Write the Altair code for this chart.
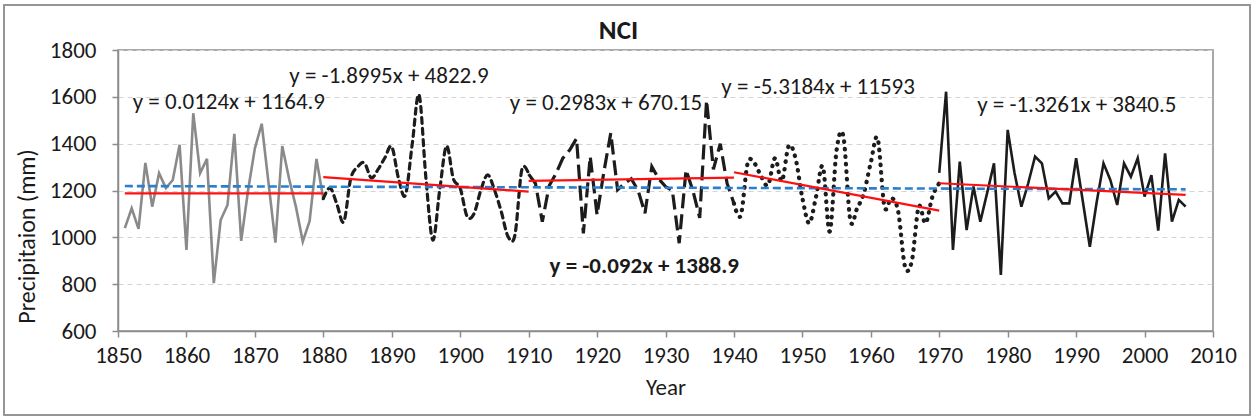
import altair as alt
import pandas as pd

# ---- data ----
seg1_years = list(range(1851, 1881))
seg1_values = [1039, 1124, 1036, 1318, 1131, 1274, 1210, 1245, 1395, 946,
               1530, 1274, 1335, 804, 1074, 1138, 1442, 985, 1200, 1380,
               1485, 1230, 977, 1390, 1250, 1130, 982, 1070, 1335, 1165]

seg2_years = list(range(1880, 1911))
seg2_values = [1165, 1211, 1140, 1067, 1250, 1300, 1318, 1254, 1290, 1340,
               1387, 1250, 1181, 1400, 1608, 1250, 989, 1200, 1390, 1250,
               1210, 1090, 1100, 1200, 1267, 1203, 1110, 1003, 1010, 1288,
               1270]

seg3_years = list(range(1910, 1941))
seg3_values = [1270, 1230, 1067, 1220, 1273, 1338, 1373, 1422, 1017, 1345,
               1096, 1280, 1445, 1203, 1230, 1250, 1200, 1103, 1302, 1250,
               1217, 1200, 975, 1288, 1200, 1083, 1585, 1290, 1400, 1230,
               1145]

seg4_years = list(range(1940, 1971))
seg4_values = [1145, 1093, 1316, 1316, 1259, 1224, 1338, 1240, 1390, 1338,
               1168, 1060, 1174, 1302, 1025, 1373, 1430, 1074, 1124, 1190,
               1320, 1423, 1131, 1168, 1110, 875, 900, 1131, 1060, 1174,
               1231]

seg5_years = list(range(1970, 2007))
seg5_values = [1275, 1622, 946, 1323, 1031, 1217, 1067, 1190, 1316, 839,
               1459, 1275, 1131, 1231, 1345, 1316, 1166, 1195, 1145, 1145,
               1338, 1150, 960, 1150, 1316, 1245, 1138, 1316, 1259, 1338,
               1174, 1266, 1029, 1359, 1067, 1160, 1131]

trend_group = ["t1", "t1", "t2", "t2", "t3", "t3", "t4", "t4", "t5", "t5"]
trend_year = [1851, 1880, 1880, 1910, 1910, 1940, 1940, 1970, 1970, 2006]
trend_value = [1188, 1188, 1257, 1195, 1241, 1255, 1278, 1114, 1231, 1181]

overall_year = [1851, 2006]
overall_value = [1219, 1205]

eq_text = ["y = 0.0124x + 1164.9", "y = -1.8995x + 4822.9", "y = 0.2983x + 670.15",
           "y = -5.3184x + 11593", "y = -1.3261x + 3840.5"]
eq_year = [1866.2, 1889.6, 1921.3, 1952.3, 1990.1]
eq_value = [1579, 1690, 1572, 1643, 1566]

overall_text = ["y = -0.092x + 1388.9"]
overall_text_year = [1926.9]
overall_text_value = [878]

# ---- tables ----
def seg_df(ys, vs):
    return pd.DataFrame({"year": ys, "value": vs})

d1 = seg_df(seg1_years, seg1_values)
d2 = seg_df(seg2_years, seg2_values)
d3 = seg_df(seg3_years, seg3_values)
d4 = seg_df(seg4_years, seg4_values)
d5 = seg_df(seg5_years, seg5_values)
trend_df = pd.DataFrame({"g": trend_group, "year": trend_year, "value": trend_value})
overall_df = pd.DataFrame({"year": overall_year, "value": overall_value})
eq_df = pd.DataFrame({"text": eq_text, "year": eq_year, "value": eq_value})
ov_df = pd.DataFrame({"text": overall_text, "year": overall_text_year, "value": overall_text_value})

FONT = "Carlito, Calibri, Lato, sans-serif"

xscale = alt.Scale(domain=[1850, 2010], nice=False, zero=False)
yscale = alt.Scale(domain=[600, 1800], nice=False, zero=False)

xaxis = alt.Axis(values=list(range(1850, 2011, 10)), format="d", title="Year",
                 grid=False, tickSize=6, labelPadding=7, titlePadding=9,
                 labelFontSize=23, titleFontSize=23, labelFlush=False)
yaxis = alt.Axis(values=list(range(600, 1801, 200)), format="d",
                 title="Precipitaion (mm)", grid=True, gridDash=[5, 4],
                 gridColor="#d4d4d4", gridWidth=1.2, tickSize=6, labelPadding=16,
                 labelFontSize=23, titleFontSize=24, titlePadding=10, titleY=186)

X = alt.X("year:Q", scale=xscale, axis=xaxis)
Y = alt.Y("value:Q", scale=yscale, axis=yaxis)
Xn = alt.X("year:Q", scale=xscale)
Yn = alt.Y("value:Q", scale=yscale)

l1 = alt.Chart(d1).mark_line(color="#8a8a8a", strokeWidth=2.6).encode(x=X, y=Y)
l2 = alt.Chart(d2).mark_line(color="#1c1c1c", strokeWidth=3.2, strokeDash=[6, 5],
                             strokeCap="round", interpolate="cardinal").encode(x=Xn, y=Yn)
l3 = alt.Chart(d3).mark_line(color="#1c1c1c", strokeWidth=3.2,
                             strokeDash=[15, 6]).encode(x=Xn, y=Yn)
l4 = alt.Chart(d4).mark_line(color="#1c1c1c", strokeWidth=4.2, strokeDash=[0.5, 7],
                             strokeCap="round", interpolate="cardinal").encode(x=Xn, y=Yn)
l5 = alt.Chart(d5).mark_line(color="#1c1c1c", strokeWidth=2.6).encode(x=Xn, y=Yn)

overall = alt.Chart(overall_df).mark_line(color="#2a7fcf", strokeWidth=2.6,
                                          strokeDash=[8, 4]).encode(x=Xn, y=Yn)
trends = alt.Chart(trend_df).mark_line(color="#ff1010", strokeWidth=2.2).encode(
    x=Xn, y=Yn, detail="g:N")

eqs = alt.Chart(eq_df).mark_text(font=FONT, fontSize=23, color="#1a1a1a",
                                 align="center", baseline="middle").encode(
    x=Xn, y=Yn, text="text:N")
ov = alt.Chart(ov_df).mark_text(font=FONT, fontSize=23, fontWeight="bold",
                                color="#1a1a1a", align="center",
                                baseline="middle").encode(x=Xn, y=Yn, text="text:N")

frame = alt.Chart(overall_df).mark_rect(filled=False, stroke="#8f8f8f",
                                        strokeWidth=1.5).encode(
    x=alt.value(-114), x2=alt.value(1132), y=alt.value(-45), y2=alt.value(365))

chart = alt.layer(l1, l2, l3, l4, l5, overall, trends, eqs, ov, frame).properties(
    width=1095, height=281,
    autosize=alt.AutoSizeParams(type="none"),
    padding={"left": 118, "top": 50, "right": 41, "bottom": 88},
    title=alt.TitleParams(text="NCI", font=FONT, fontSize=27, fontWeight="bold",
                          color="#1a1a1a", anchor="middle", dx=-47, dy=49, offset=8),
).configure(
    font=FONT, background="white"
).configure_view(
    stroke="#8c8c8c", strokeWidth=1.5
).configure_axis(
    domainColor="#8c8c8c", domainWidth=1.5, tickColor="#8c8c8c", tickWidth=1.5,
    labelColor="#1a1a1a", titleColor="#1a1a1a", labelFont=FONT, titleFont=FONT,
    titleFontWeight="normal"
)

chart.save("out.html", embed_options={"renderer": "svg", "actions": False})
